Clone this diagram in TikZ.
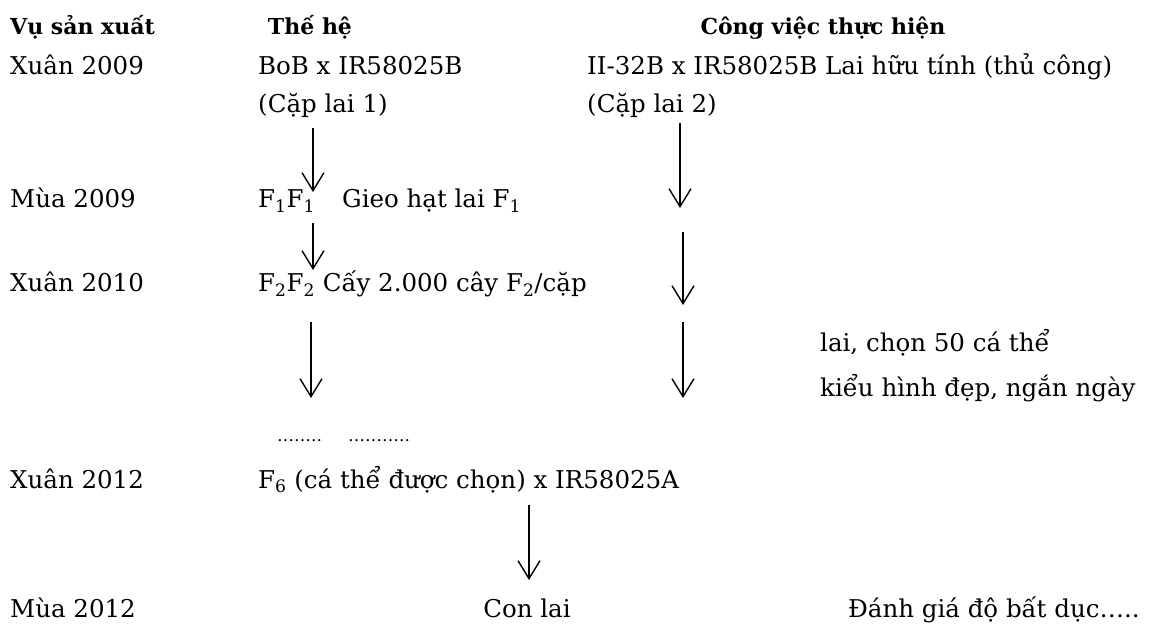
\documentclass[tikz,border=0pt]{standalone}
\usepackage{fontspec}
\setmainfont{DejaVu Serif}
\usetikzlibrary{arrows.meta}
\tikzset{
  txt/.style={anchor=base west, inner sep=0pt, font=\fontsize{24.5}{28}\selectfont},
  hdr/.style={anchor=base, inner sep=0pt, font=\fontsize{22}{26}\selectfont\bfseries},
  dotsty/.style={anchor=base west, inner sep=0pt, font=\fontsize{17}{20}\selectfont},
  flow/.style={-{Straight Barb[length=18pt,width=22pt]}, line width=1.4pt}
}
\newcommand{\sbs}[1]{\textsubscript{#1}}
\begin{document}
\begin{tikzpicture}[x=1pt,y=-1pt]
\useasboundingbox[fill=white] (0,0) rectangle (1160,628);
% headers
\node[hdr, anchor=base west] (h1) at (10,35) {Vụ sản xuất};
\node[hdr] (h2) at (310,35) {Thế hệ};
\node[hdr] (h3) at (823,35) {Công việc thực hiện};
% Xuân 2009
\node[txt] (r1a) at (10,75) {Xuân 2009};
\node[txt] (r1b) at (258,75) {BoB x IR58025B};
\node[txt] (r1c) at (587,75) {II-32B x IR58025B Lai hữu tính (thủ công)};
\node[txt] (r2b) at (258,113) {(Cặp lai 1)};
\node[txt] (r2c) at (587,113) {(Cặp lai 2)};
% Mùa 2009
\node[txt] (r3a) at (10,208) {Mùa 2009};
\node[txt] (r3b) at (258,208) {F\sbs{1}F\sbs{1}};
\node[txt] (r3c) at (342,208) {Gieo hạt lai F\sbs{1}};
% Xuân 2010
\node[txt] (r4a) at (10,292) {Xuân 2010};
\node[txt] (r4b) at (258,292) {F\sbs{2}F\sbs{2} Cấy 2.000 cây F\sbs{2}/cặp};
\node[txt] (r5c) at (820,352) {lai, chọn 50 cá thể};
\node[txt] (r6c) at (820,397) {kiểu hình đẹp, ngắn ngày};
\node[dotsty] (dots1) at (277,442) {……..};
\node[dotsty] (dots2) at (348,442) {………..};
% Xuân 2012
\node[txt] (r7a) at (10,488) {Xuân 2012};
\node[txt] (r7b) at (258,488) {F\sbs{6} (cá thể được chọn) x IR58025A};
% Mùa 2012
\node[txt] (r8a) at (10,617) {Mùa 2012};
\node[txt, anchor=base] (r8b) at (527,617) {Con lai};
\node[txt] (r8c) at (848,617) {Đánh giá độ bất dục…..};
% arrows
\coordinate (l1s) at (313,128); \coordinate (l1e) at (313,192);
\coordinate (l2s) at (313,223); \coordinate (l2e) at (313,270);
\coordinate (l3s) at (311,322); \coordinate (l3e) at (311,398);
\coordinate (q1s) at (680,123); \coordinate (q1e) at (680,208);
\coordinate (q2s) at (683,232); \coordinate (q2e) at (683,305);
\coordinate (q3s) at (683,322); \coordinate (q3e) at (683,398);
\coordinate (bs) at (529,505); \coordinate (be) at (529,580);
\draw[flow] (l1s) -- (l1e);
\draw[flow] (l2s) -- (l2e);
\draw[flow] (l3s) -- (l3e);
\draw[flow] (q1s) -- (q1e);
\draw[flow] (q2s) -- (q2e);
\draw[flow] (q3s) -- (q3e);
\draw[flow] (bs) -- (be);
\end{tikzpicture}
\end{document}
